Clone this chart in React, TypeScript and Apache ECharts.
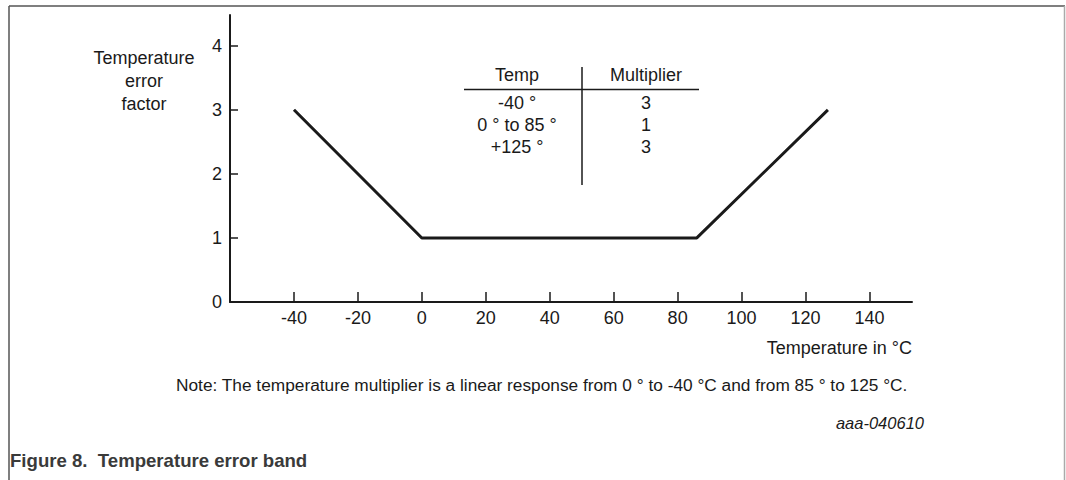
import React, { useEffect, useRef } from "react";
import * as echarts from "echarts";

const temps = [-40, 0, 86, 127];
const factors = [3, 1, 1, 3];
const xTicks = [-40, -20, 0, 20, 40, 60, 80, 100, 120, 140];
const yTicks = [1, 2, 3, 4];
const yLabels = [0, 1, 2, 3, 4];
const tableTemps = ["-40 °", "0 ° to 85 °", "+125 °"];
const tableMult = ["3", "1", "3"];

const FONT = "Liberation Sans, Arial, Helvetica, sans-serif";
const INK = "#1a1a1a";

export default function App() {
  const ref = useRef<HTMLDivElement>(null);
  useEffect(() => {
    const chart = echarts.init(ref.current!, null, { renderer: "svg" });
    const rowY = [103, 125, 147];
    const tf = `18px ${FONT}`;
    const graphics: any[] = [
      // frame
      { type: "line", shape: { x1: 9, y1: 6, x2: 1065, y2: 6 }, style: { stroke: "#555", lineWidth: 1.5 } },
      { type: "line", shape: { x1: 9, y1: 6, x2: 9, y2: 480 }, style: { stroke: "#555", lineWidth: 1.5 } },
      { type: "line", shape: { x1: 1064.5, y1: 6, x2: 1064.5, y2: 480 }, style: { stroke: "#aaa", lineWidth: 1.5 } },
      // y axis name
      {
        type: "text", x: 144, y: 46,
        style: { text: "Temperature\nerror\nfactor", fill: INK, font: `18px ${FONT}`, textAlign: "center", textVerticalAlign: "top", lineHeight: 23 },
      },
      // x axis name
      {
        type: "text", x: 912, y: 348,
        style: { text: "Temperature in °C", fill: INK, font: `18px ${FONT}`, textAlign: "right", textVerticalAlign: "middle" },
      },
      // table
      { type: "line", shape: { x1: 464, y1: 89.5, x2: 699, y2: 89.5 }, style: { stroke: INK, lineWidth: 1.5 } },
      { type: "line", shape: { x1: 582, y1: 67, x2: 582, y2: 185 }, style: { stroke: INK, lineWidth: 1.5 } },
      { type: "text", x: 517, y: 75, style: { text: "Temp", fill: INK, font: tf, textAlign: "center", textVerticalAlign: "middle" } },
      { type: "text", x: 646, y: 75, style: { text: "Multiplier", fill: INK, font: tf, textAlign: "center", textVerticalAlign: "middle" } },
      ...tableTemps.map((t, i) => ({ type: "text", x: 517, y: rowY[i], style: { text: t, fill: INK, font: tf, textAlign: "center", textVerticalAlign: "middle" } })),
      ...tableMult.map((t, i) => ({ type: "text", x: 646, y: rowY[i], style: { text: t, fill: INK, font: tf, textAlign: "center", textVerticalAlign: "middle" } })),
      // note
      {
        type: "text", x: 176, y: 385,
        style: { text: "Note: The temperature multiplier is a linear response from 0 ° to -40 °C and from 85 ° to 125 °C.", fill: INK, font: `17.3px ${FONT}`, textAlign: "left", textVerticalAlign: "middle" },
      },
      {
        type: "text", x: 924, y: 423,
        style: { text: "aaa-040610", fill: INK, font: `italic 16.5px ${FONT}`, textAlign: "right", textVerticalAlign: "middle" },
      },
      {
        type: "text", x: 10, y: 460,
        style: { text: "Figure 8.  Temperature error band", fill: "#3a3a3a", font: `bold 18.6px ${FONT}`, textAlign: "left", textVerticalAlign: "middle" },
      },
    ];

    chart.setOption({
      animation: false,
      backgroundColor: "#fff",
      grid: { left: 230, right: 154, top: 15, bottom: 178, containLabel: false },
      xAxis: {
        type: "value",
        min: -60,
        max: 153.3,
        splitLine: { show: false },
        axisLine: { show: true, onZero: false, lineStyle: { color: INK, width: 2 } },
        axisTick: { show: true, inside: true, length: 10, customValues: xTicks, lineStyle: { color: INK, width: 1.5 } },
        axisLabel: { customValues: xTicks, color: INK, fontSize: 18, fontFamily: FONT, margin: 7 },
      },
      yAxis: {
        type: "value",
        min: 0,
        max: 4.48,
        splitLine: { show: false },
        axisLine: { show: true, onZero: false, lineStyle: { color: INK, width: 2 } },
        axisTick: { show: true, inside: true, length: 8, customValues: yTicks, lineStyle: { color: INK, width: 1.5 } },
        axisLabel: { customValues: yLabels, color: INK, fontSize: 18, fontFamily: FONT, margin: 8 },
      },
      series: [
        {
          type: "line",
          data: temps.map((t, i) => [t, factors[i]]),
          symbol: "none",
          lineStyle: { color: INK, width: 3 },
          silent: true,
        },
      ],
      graphic: graphics,
    });
    return () => chart.dispose();
  }, []);
  return (
    <div style={{ position: "fixed", left: 0, top: 0, width: 1066, height: 480, background: "#fff" }}>
      <div ref={ref} style={{ width: 1066, height: 480 }} />
    </div>
  );
}
